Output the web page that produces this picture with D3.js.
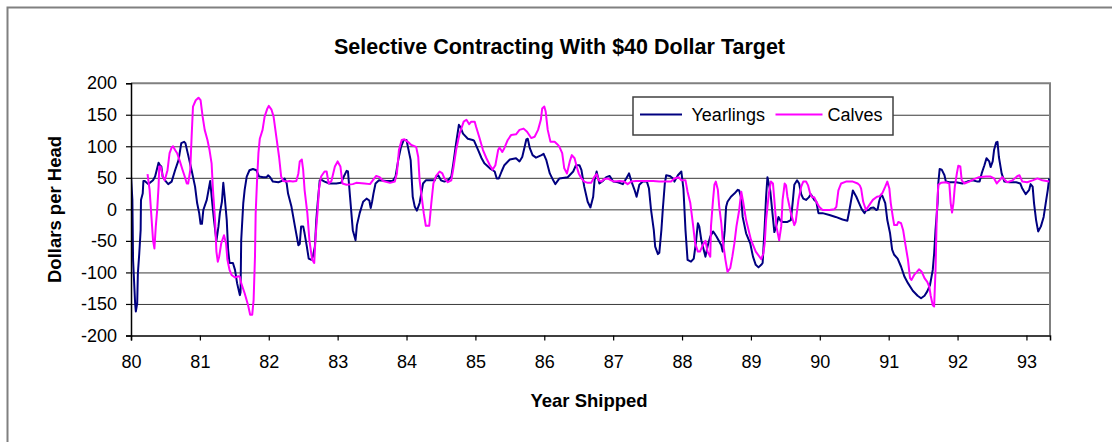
<!DOCTYPE html>
<html>
<head>
<meta charset="utf-8">
<script src="https://cdn.jsdelivr.net/npm/d3@7"></script>
<style>
  html, body { margin: 0; padding: 0; background: #fff; }
  svg { display: block; }
  text { font-family: "Liberation Sans", Arial, sans-serif; fill: #000; }
</style>
</head>
<body>
<svg id="chart" width="1112" height="442"></svg>
<script>
// ---- data ----
const title = "Selective Contracting With $40 Dollar Target";
const xTitle = "Year Shipped";
const yTitle = "Dollars per Head";
const seriesNames = ["Yearlings", "Calves"];
const xTicks = [80, 81, 82, 83, 84, 85, 86, 87, 88, 89, 90, 91, 92, 93];
const yTicks = [-200, -150, -100, -50, 0, 50, 100, 150, 200];

// [year, dollars per head]
const yearlings = [
[80.00,53],[80.02,15],[80.03,-80],[80.06,-149],[80.07,-162],[80.09,-149],[80.10,-101],[80.12,-70],[80.14,-33],[80.145,15],
[80.17,25],[80.18,45],[80.20,45],[80.25,40],[80.32,46],[80.35,52],[80.40,74],[80.42,70],[80.44,68],[80.46,52],
[80.50,45],[80.54,40],[80.59,44],[80.64,62],[80.69,78],[80.73,105],[80.77,107],[80.79,105],[80.83,86],[80.88,62],
[80.93,36],[80.96,10],[80.99,-6],[81.01,-23],[81.03,-23],[81.05,-1],[81.10,15],[81.15,45],[81.18,10],[81.20,-12],
[81.24,-50],[81.27,-27],[81.29,-6],[81.32,12],[81.34,42],[81.36,20],[81.39,-17],[81.41,-64],[81.43,-85],[81.48,-85],
[81.51,-96],[81.54,-117],[81.58,-136],[81.59,-132],[81.60,-49],[81.63,10],[81.65,31],[81.68,52],[81.72,62],[81.77,64],
[81.82,62],[81.86,52],[81.92,51],[81.97,51],[81.99,54],[82.02,51],[82.06,44],[82.14,43],[82.21,46],[82.23,49],
[82.26,41],[82.28,25],[82.33,4],[82.38,-27],[82.43,-57],[82.45,-55],[82.47,-27],[82.50,-27],[82.52,-38],[82.55,-57],
[82.58,-78],[82.62,-80],[82.64,-75],[82.67,-59],[82.69,-17],[82.71,10],[82.74,46],[82.76,47],[82.81,44],[82.88,41],
[82.98,41],[83.05,42],[83.09,52],[83.13,61],[83.15,60],[83.18,20],[83.22,-33],[83.26,-49],[83.28,-25],[83.32,-6],
[83.37,12],[83.42,17],[83.46,14],[83.48,2],[83.50,12],[83.52,25],[83.55,41],[83.60,46],[83.71,45],[83.80,45],
[83.84,52],[83.88,78],[83.92,99],[83.96,110],[84.00,110],[84.02,99],[84.06,78],[84.09,20],[84.12,4],[84.15,-2],
[84.19,10],[84.24,41],[84.28,46],[84.36,46],[84.41,46],[84.43,52],[84.46,54],[84.50,46],[84.55,44],[84.60,46],
[84.65,52],[84.68,73],[84.72,105],[84.76,134],[84.78,131],[84.82,120],[84.89,112],[84.96,110],[84.98,109],[85.04,94],
[85.09,81],[85.13,73],[85.21,65],[85.28,60],[85.31,49],[85.34,49],[85.38,60],[85.42,70],[85.50,79],[85.59,81],
[85.64,76],[85.68,83],[85.71,97],[85.74,111],[85.76,112],[85.79,97],[85.83,86],[85.88,82],[85.96,86],[85.99,88],
[86.03,78],[86.08,57],[86.13,46],[86.16,40],[86.22,49],[86.34,51],[86.42,60],[86.46,70],[86.51,70],[86.54,62],
[86.58,36],[86.63,12],[86.67,3],[86.71,20],[86.73,46],[86.76,60],[86.80,41],[86.85,45],[86.90,51],[86.95,53],
[87.00,44],[87.07,43],[87.14,40],[87.19,49],[87.23,57],[87.26,46],[87.31,31],[87.34,20],[87.38,39],[87.43,44],
[87.49,44],[87.52,33],[87.55,-1],[87.59,-33],[87.61,-59],[87.65,-71],[87.67,-69],[87.70,-33],[87.72,-1],[87.75,41],
[87.77,54],[87.82,53],[87.87,49],[87.89,44],[87.94,54],[87.99,60],[88.02,33],[88.05,-33],[88.08,-80],[88.13,-83],
[88.17,-78],[88.20,-54],[88.23,-22],[88.25,-27],[88.28,-49],[88.31,-62],[88.34,-75],[88.37,-59],[88.41,-43],[88.45,-35],
[88.47,-38],[88.50,-43],[88.53,-49],[88.57,-57],[88.59,-67],[88.62,-33],[88.64,4],[88.66,12],[88.71,20],[88.76,25],
[88.81,31],[88.83,30],[88.86,17],[88.88,-12],[88.93,-38],[88.99,-54],[89.03,-75],[89.07,-88],[89.11,-92],[89.15,-88],
[89.17,-85],[89.20,-27],[89.22,20],[89.24,51],[89.28,30],[89.32,-14],[89.34,-36],[89.36,-30],[89.40,-12],[89.43,-18],
[89.46,-20],[89.53,-20],[89.58,-17],[89.61,15],[89.63,39],[89.67,46],[89.70,41],[89.73,24],[89.76,17],[89.80,15],
[89.84,19],[89.87,24],[89.92,15],[89.95,12],[89.98,-6],[90.04,-6],[90.14,-9],[90.23,-12],[90.33,-16],[90.40,-18],
[90.43,-1],[90.48,30],[90.53,20],[90.57,10],[90.61,0],[90.65,-6],[90.67,-2],[90.71,-1],[90.74,2],[90.78,3],
[90.82,-1],[90.84,0],[90.86,12],[90.89,23],[90.91,21],[90.95,10],[90.98,-17],[91.02,-38],[91.05,-64],[91.08,-72],
[91.13,-78],[91.18,-91],[91.23,-107],[91.28,-117],[91.35,-129],[91.42,-137],[91.47,-141],[91.52,-137],[91.56,-130],[91.60,-120],
[91.64,-96],[91.66,-70],[91.68,-33],[91.71,10],[91.72,41],[91.74,64],[91.77,63],[91.81,54],[91.83,44],[91.88,43],
[91.98,43],[92.07,41],[92.14,44],[92.22,46],[92.29,44],[92.32,44],[92.35,57],[92.39,70],[92.42,81],[92.46,76],
[92.48,67],[92.51,76],[92.53,94],[92.56,106],[92.58,107],[92.60,83],[92.64,57],[92.68,44],[92.75,43],[92.85,43],
[92.91,41],[92.94,33],[92.99,24],[93.04,31],[93.06,40],[93.09,36],[93.11,10],[93.14,-17],[93.17,-35],[93.21,-27],
[93.25,-12],[93.28,10],[93.31,31],[93.33,49]
];

const calves = [
[80.24,56],[80.27,31],[80.30,-17],[80.32,-49],[80.34,-62],[80.36,-27],[80.38,-1],[80.40,36],[80.41,68],[80.43,68],
[80.46,52],[80.49,46],[80.53,62],[80.56,89],[80.59,98],[80.61,100],[80.64,94],[80.67,89],[80.71,76],[80.75,62],
[80.78,52],[80.81,41],[80.83,41],[80.86,62],[80.88,115],[80.90,163],[80.94,173],[80.98,177],[81.01,173],[81.04,147],
[81.07,126],[81.11,110],[81.14,94],[81.17,73],[81.19,31],[81.22,-17],[81.24,-67],[81.26,-83],[81.28,-75],[81.31,-54],
[81.35,-41],[81.38,-54],[81.40,-80],[81.43,-96],[81.46,-104],[81.51,-108],[81.56,-106],[81.58,-107],[81.60,-117],[81.65,-133],
[81.70,-152],[81.73,-167],[81.76,-167],[81.78,-144],[81.80,-75],[81.81,-6],[81.83,46],[81.85,89],[81.87,112],[81.91,126],
[81.94,147],[81.98,160],[82.00,164],[82.04,158],[82.07,147],[82.11,115],[82.15,83],[82.18,52],[82.21,45],[82.26,44],
[82.30,45],[82.35,44],[82.40,45],[82.43,57],[82.45,76],[82.48,79],[82.50,62],[82.52,31],[82.56,-6],[82.59,-49],
[82.63,-80],[82.66,-85],[82.68,-43],[82.71,-1],[82.73,33],[82.76,52],[82.81,60],[82.84,60],[82.87,41],[82.91,45],
[82.96,68],[83.00,76],[83.04,68],[83.07,41],[83.13,39],[83.22,40],[83.27,42],[83.39,41],[83.47,40],[83.51,46],
[83.56,53],[83.61,51],[83.66,45],[83.76,42],[83.83,44],[83.86,57],[83.89,94],[83.93,110],[83.97,111],[84.02,107],
[84.07,102],[84.14,99],[84.17,83],[84.19,46],[84.22,20],[84.25,-6],[84.28,-26],[84.33,-26],[84.36,10],[84.39,41],
[84.43,53],[84.48,60],[84.52,57],[84.55,49],[84.60,43],[84.65,46],[84.68,65],[84.72,94],[84.77,120],[84.83,139],
[84.87,142],[84.91,135],[84.94,139],[84.99,139],[85.01,131],[85.06,113],[85.11,94],[85.16,81],[85.21,70],[85.25,63],
[85.29,70],[85.33,94],[85.35,98],[85.39,91],[85.42,97],[85.47,110],[85.52,118],[85.59,119],[85.64,126],[85.70,128],
[85.75,123],[85.81,113],[85.86,115],[85.91,126],[85.95,142],[85.97,160],[86.00,163],[86.02,155],[86.05,126],[86.09,107],
[86.15,107],[86.20,102],[86.22,99],[86.26,89],[86.29,65],[86.33,57],[86.37,76],[86.40,86],[86.44,81],[86.47,68],
[86.50,57],[86.54,49],[86.58,44],[86.63,42],[86.68,42],[86.73,52],[86.76,56],[86.79,46],[86.83,44],[86.87,48],
[86.92,49],[86.97,46],[87.02,44],[87.09,45],[87.16,44],[87.21,40],[87.26,44],[87.33,45],[87.43,45],[87.58,45],
[87.67,44],[87.77,44],[87.84,44],[87.89,49],[87.95,51],[87.99,46],[88.05,46],[88.08,28],[88.12,10],[88.16,-25],
[88.19,-54],[88.23,-67],[88.26,-67],[88.30,-57],[88.34,-50],[88.37,-67],[88.41,-75],[88.42,-27],[88.45,15],[88.47,39],
[88.49,44],[88.52,31],[88.54,4],[88.57,-22],[88.59,-49],[88.63,-80],[88.66,-99],[88.70,-93],[88.73,-75],[88.76,-54],
[88.79,-27],[88.83,-1],[88.86,28],[88.89,10],[88.93,-17],[89.00,-48],[89.07,-67],[89.15,-79],[89.18,-70],[89.20,-54],
[89.22,-17],[89.26,25],[89.29,44],[89.32,41],[89.34,15],[89.37,-27],[89.41,-49],[89.44,-27],[89.46,15],[89.49,41],
[89.51,38],[89.53,20],[89.58,-6],[89.63,-25],[89.65,-20],[89.69,15],[89.73,36],[89.76,44],[89.80,44],[89.83,38],
[89.86,25],[89.89,19],[89.92,19],[89.95,12],[89.99,4],[90.04,-1],[90.14,-1],[90.21,0],[90.24,4],[90.27,30],
[90.31,41],[90.38,44],[90.48,44],[90.55,41],[90.58,38],[90.60,33],[90.63,12],[90.67,-1],[90.72,7],[90.77,15],
[90.83,20],[90.87,21],[90.91,26],[90.95,36],[90.98,44],[91.01,33],[91.03,10],[91.06,-12],[91.08,-25],[91.12,-25],
[91.14,-20],[91.18,-22],[91.21,-33],[91.24,-54],[91.28,-80],[91.31,-109],[91.33,-112],[91.37,-104],[91.41,-99],[91.44,-95],
[91.48,-99],[91.52,-109],[91.56,-115],[91.59,-123],[91.61,-137],[91.64,-152],[91.66,-154],[91.68,-96],[91.70,-1],[91.72,39],
[91.76,42],[91.83,43],[91.88,41],[91.90,10],[91.92,-5],[91.94,10],[91.96,36],[91.99,57],[92.01,69],[92.04,68],
[92.06,46],[92.10,41],[92.17,44],[92.24,48],[92.31,51],[92.41,52],[92.48,52],[92.53,49],[92.57,41],[92.60,45],
[92.65,51],[92.69,46],[92.72,43],[92.80,46],[92.87,53],[92.90,54],[92.94,44],[93.01,43],[93.09,46],[93.16,49],
[93.23,46],[93.33,44]
];

// ---- layout ----
const svg = d3.select("#chart");
const W = 1112, H = 442;
const plot = { left: 131, right: 1050, top: 83.2, bottom: 335.5 };
const colors = { Yearlings: "#000080", Calves: "#FF00FF" };
const plainNumber = d => String(d);   // hyphen-minus, as in the reference

const x = d3.scaleLinear().domain([80, 93.342]).range([plot.left, plot.right]);
const y = d3.scaleLinear().domain([-200, 200]).range([plot.bottom, plot.top]);

svg.append("rect").attr("width", W).attr("height", H).attr("fill", "#fff");
// outer chart frame
svg.append("rect").attr("x", 7.5).attr("y", 7.5).attr("width", 1130).attr("height", 460)
  .attr("fill", "none").attr("stroke", "#808080").attr("stroke-width", 2);

// title
svg.append("text").attr("x", 559.5).attr("y", 53.5).attr("text-anchor", "middle")
  .style("font-size", "21.5px").style("font-weight", "bold").text(title);

// gridlines
const grid = svg.append("g").attr("transform", `translate(${plot.left},0)`)
  .call(d3.axisLeft(y).tickValues(yTicks.filter(v => v > -200 && v < 200))
    .tickSize(-(plot.right - plot.left)).tickFormat(""));
grid.select(".domain").remove();
grid.selectAll(".tick line").attr("stroke", "#3a3a3a").attr("stroke-width", 1);

// plot area border (top/right)
svg.append("path")
  .attr("d", `M${plot.left},${y(200)}H${plot.right}V${plot.bottom}`)
  .attr("fill", "none").attr("stroke", "#808080").attr("stroke-width", 2);

// series
const line = d3.line().x(d => x(d[0])).y(d => y(d[1]));
svg.append("clipPath").attr("id", "clip").append("rect")
  .attr("x", plot.left).attr("y", plot.top - 5).attr("width", plot.right - plot.left)
  .attr("height", plot.bottom - plot.top + 5);
const series = [{ name: "Yearlings", data: yearlings }, { name: "Calves", data: calves }];
svg.append("g").attr("clip-path", "url(#clip)")
  .selectAll("path").data(series).join("path")
  .attr("d", d => line(d.data))
  .attr("fill", "none")
  .attr("stroke", d => colors[d.name])
  .attr("stroke-width", 2)
  .attr("stroke-linejoin", "round");

// axes
const yAxis = svg.append("g").attr("transform", `translate(${plot.left},0)`)
  .call(d3.axisLeft(y).tickValues(yTicks).tickSize(5).tickPadding(9).tickFormat(plainNumber));
yAxis.select(".domain").attr("stroke", "#000").attr("stroke-width", 1.5);
yAxis.selectAll(".tick line").attr("stroke", "#000").attr("stroke-width", 1.2);
yAxis.selectAll("text").style("font-size", "18px").style("font-family", '"Liberation Sans", Arial, sans-serif').attr("fill", "#000");

const xAxis = svg.append("g").attr("transform", `translate(0,${plot.bottom})`)
  .call(d3.axisBottom(x).tickValues(xTicks).tickSize(5).tickPadding(15).tickFormat(plainNumber));
xAxis.select(".domain").attr("stroke", "#000").attr("stroke-width", 1.5);
xAxis.selectAll(".tick line").attr("stroke", "#000").attr("stroke-width", 1.2);
xAxis.selectAll("text").style("font-size", "18px").style("font-family", '"Liberation Sans", Arial, sans-serif').attr("fill", "#000");

// axis titles
svg.append("text").attr("x", 589).attr("y", 406.5).attr("text-anchor", "middle")
  .style("font-size", "18.5px").style("font-weight", "bold").text(xTitle);
svg.append("text").attr("transform", "translate(60.5,209.5) rotate(-90)").attr("text-anchor", "middle")
  .style("font-size", "18.5px").style("font-weight", "bold").text(yTitle);

// legend
const legend = svg.append("g");
legend.append("rect").attr("x", 633).attr("y", 97).attr("width", 260).attr("height", 38)
  .attr("fill", "#fff").attr("stroke", "#404040").attr("stroke-width", 1.5);
const legendItems = [
  { name: seriesNames[0], x1: 640, x2: 682, tx: 691.5 },
  { name: seriesNames[1], x1: 775.5, x2: 822.5, tx: 827.5 }
];
legendItems.forEach(it => {
  legend.append("line").attr("x1", it.x1).attr("x2", it.x2).attr("y1", 114.5).attr("y2", 114.5)
    .attr("stroke", colors[it.name]).attr("stroke-width", 2);
  legend.append("text").attr("x", it.tx).attr("y", 120.5).style("font-size", "18px").text(it.name);
});
</script>
</body>
</html>
